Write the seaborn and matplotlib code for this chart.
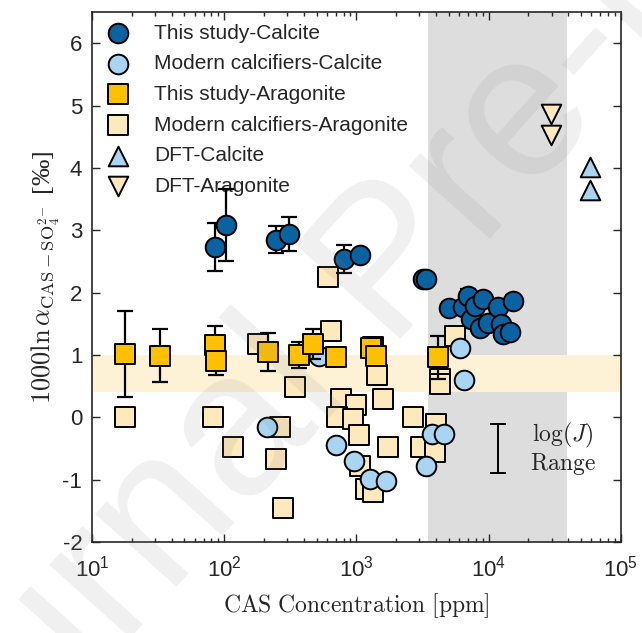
import numpy as np
import pandas as pd
import seaborn as sns
import matplotlib.pyplot as plt
from matplotlib.ticker import FixedLocator, LogLocator, NullFormatter

# this study - calcite
ts_cal_x = [85, 104, 246, 308, 804, 1062, 3200, 3350, 5020, 6400, 6995, 7420, 7850,
            8570, 9060, 9910, 11770, 12490, 12840, 14420, 15270]
ts_cal_y = [2.73, 3.08, 2.85, 2.94, 2.54, 2.61, 2.22, 2.21, 1.75, 1.77, 1.95, 1.58, 1.79,
            1.44, 1.90, 1.52, 1.77, 1.50, 1.34, 1.36, 1.86]
ts_cal_err = [0.39, 0.58, 0.22, 0.28, 0.23, 0.0, 0.0, 0.0, 0.1, 0.1, 0.1, 0.1, 0.1,
              0.1, 0.1, 0.1, 0.1, 0.1, 0.1, 0.1, 0.1]

# this study - aragonite
ts_ara_x = [17.7, 32.7, 85, 87, 215, 369, 471, 698, 1300, 1400, 4150]
ts_ara_y = [1.02, 0.99, 1.16, 0.91, 1.05, 1.00, 1.18, 0.97, 1.11, 0.99, 0.96]
ts_ara_err = [0.69, 0.42, 0.30, 0.23, 0.30, 0.21, 0.24, 0.0, 0.0, 0.0, 0.35]

# modern calcifiers - calcite
mc_cal_x = [209, 522, 706, 955, 1262, 1687, 3380, 3750, 4580, 6050, 6490]
mc_cal_y = [-0.16, 0.99, -0.44, -0.70, -0.99, -1.02, -0.78, -0.27, -0.27, 1.11, 0.60]

# modern calcifiers - aragonite
mc_ara_x = [17.7, 81.7, 117, 181, 263, 245, 280, 342, 611, 637, 771, 1000, 715, 950,
            1043, 1062, 1191, 1337, 1420, 1330, 1589, 1738, 2686, 3100, 3900, 4030,
            4270, 4270, 5550]
mc_ara_y = [0.0, 0.0, -0.48, 1.18, -0.15, -0.67, -1.46, 0.49, 2.25, 1.38, 0.29, 0.2, 0.0, -0.02,
            -0.28, -0.78, -1.15, -1.2, 0.68, 1.12, 0.29, -0.48, 0.0, -0.47, -0.55, -0.1,
            0.61, 0.53, 1.31]

# DFT
dft_cal_x = [58100, 58100]
dft_cal_y = [4.01, 3.64]
dft_ara_x = [29450, 29450]
dft_ara_y = [4.87, 4.52]

# shaded regions
gray_span = (3500, 39000)
band_span = (0.4, 1.0)

# log(J) range marker
logj_x = 11780
logj_y = -0.5
logj_half = 0.39

c_dark = '#0b62a0'
c_lblue = '#a9d5f2'
c_gold = '#ffc000'
c_cream = '#fee9bd'

sns.set_style('ticks')
plt.rcParams['font.family'] = ['Liberation Sans', 'DejaVu Sans']
plt.rcParams['mathtext.fontset'] = 'cm'
plt.rcParams['axes.unicode_minus'] = False

fig = plt.figure(figsize=(6.42, 6.33), dpi=100)
ax = fig.add_axes([0.1433, 0.1438, 0.8237, 0.8372])

ax.axvspan(*gray_span, color='#dddddd', zorder=0, lw=0)
ax.axhspan(*band_span, color='#fdf2d6', zorder=0, lw=0)

groups = [
    ('Modern calcifiers-Aragonite', mc_ara_x, mc_ara_y, 's', c_cream),
    ('Modern calcifiers-Calcite', mc_cal_x, mc_cal_y, 'o', c_lblue),
    ('This study-Aragonite', ts_ara_x, ts_ara_y, 's', c_gold),
    ('This study-Calcite', ts_cal_x, ts_cal_y, 'o', c_dark),
    ('DFT-Calcite', dft_cal_x, dft_cal_y, '^', c_lblue),
    ('DFT-Aragonite', dft_ara_x, dft_ara_y, 'v', c_cream),
]

z = 3
for name, xs, ys, mk, col in groups:
    df = pd.DataFrame({'x': xs, 'y': ys})
    if name == 'This study-Aragonite':
        ax.errorbar(ts_ara_x, ts_ara_y, yerr=ts_ara_err, fmt='none', ecolor='black',
                    elinewidth=1.6, capsize=5.5, capthick=1.6, zorder=z)
    if name == 'This study-Calcite':
        ax.errorbar(ts_cal_x, ts_cal_y, yerr=ts_cal_err, fmt='none', ecolor='black',
                    elinewidth=1.6, capsize=5.5, capthick=1.6, zorder=z)
    sns.scatterplot(data=df, x='x', y='y', marker=mk, color=col, edgecolor='black',
                    linewidth=1.4, s=200, ax=ax, label=name, zorder=z + 0.5)
    z += 1

ax.errorbar([logj_x], [logj_y], yerr=[logj_half], fmt='none', ecolor='black',
            elinewidth=1.4, capsize=6, capthick=1.4, zorder=8)
ax.text(36300, -0.29, r'$\log(J)$', ha='center', va='center', fontsize=17, zorder=8)
ax.text(36300, -0.75, r'$\mathrm{Range}$', ha='center', va='center', fontsize=17, zorder=8)

ax.set_xscale('log')
ax.set_xlim(10, 1e5)
ax.set_ylim(-2, 6.5)
ax.xaxis.set_major_locator(FixedLocator([1e1, 1e2, 1e3, 1e4, 1e5]))
ax.set_xticklabels([r'$\mathregular{10^{%d}}$' % k for k in range(1, 6)])
ax.xaxis.set_minor_locator(LogLocator(base=10, subs=np.arange(2, 10)))
ax.xaxis.set_minor_formatter(NullFormatter())
ax.set_yticks(range(-2, 7))
ax.tick_params(which='both', direction='in', top=True, right=True, labelsize=16,
               color='#262626', width=1.0)
ax.tick_params(which='major', length=6)
ax.tick_params(which='minor', length=3)
ax.tick_params(axis='x', which='major', pad=10)
ax.tick_params(axis='y', which='major', pad=7)
for sp in ax.spines.values():
    sp.set_linewidth(1.2)
    sp.set_color('#262626')
    sp.set_visible(True)

ax.set_xlabel(r'$\mathrm{CAS\ Concentration\ [ppm]}$', fontsize=17, labelpad=7)
ax.set_ylabel(r'$1000\ln\alpha_{\mathrm{CAS-SO_4^{2-}}}$ [‰]', fontsize=19, labelpad=0,
              family=['Liberation Serif', 'DejaVu Serif'])

handles, labels = ax.get_legend_handles_labels()
order = ['This study-Calcite', 'Modern calcifiers-Calcite', 'This study-Aragonite',
         'Modern calcifiers-Aragonite', 'DFT-Calcite', 'DFT-Aragonite']
hmap = dict(zip(labels, handles))
ax.legend([hmap[k] for k in order], order, loc='upper left', frameon=False, fontsize=15,
          bbox_to_anchor=(0.0, 0.988), handlelength=2.0, handletextpad=0.74,
          labelspacing=0.56, borderaxespad=0.0, borderpad=0.25)

fig.text(0.61, 0.575, 'Journal Pre-proof', rotation=48, fontsize=148, color='#888888',
         alpha=0.13, ha='center', va='center', zorder=20)

fig.savefig('out.png', dpi=100)
